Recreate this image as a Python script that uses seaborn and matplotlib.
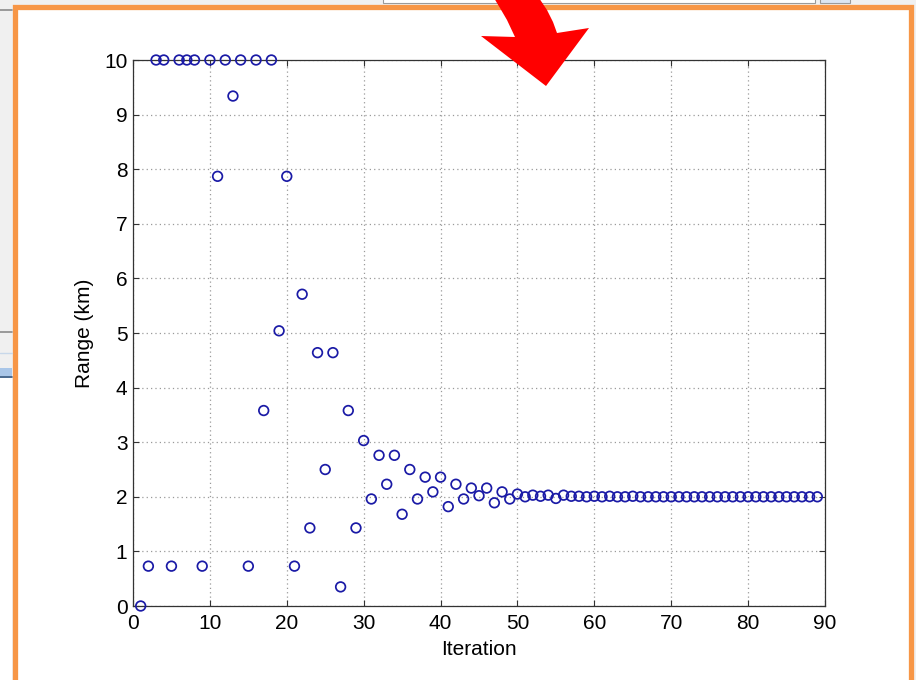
import matplotlib
matplotlib.use("Agg")
import matplotlib.pyplot as plt
import seaborn as sns
import pandas as pd
from matplotlib.patches import Rectangle, Polygon

# ---- data ----
iteration = list(range(1, 90))
range_km = [
    0.00, 0.73, 10.0, 10.0, 0.73, 10.0, 10.0, 10.0, 0.73, 10.0,   # 1-10
    7.87, 10.0, 9.34, 10.0, 0.73, 10.0, 3.58, 10.0, 5.04, 7.87,   # 11-20
    0.73, 5.71, 1.43, 4.64, 2.50, 4.64, 0.35, 3.58, 1.43, 3.03,   # 21-30
    1.96, 2.76, 2.23, 2.76, 1.68, 2.50, 1.96, 2.36, 2.09, 2.36,   # 31-40
    1.82, 2.23, 1.96, 2.16, 2.02, 2.16, 1.89, 2.09, 1.96, 2.05,   # 41-50
    2.00, 2.03, 2.01, 2.03, 1.97, 2.03, 2.01, 2.01, 2.00, 2.01,   # 51-60
    2.00, 2.01, 2.00, 2.00, 2.01, 2.00, 2.00, 2.00, 2.00, 2.00,   # 61-70
    2.00, 2.00, 2.00, 2.00, 2.00, 2.00, 2.00, 2.00, 2.00, 2.00,   # 71-80
    2.00, 2.00, 2.00, 2.00, 2.00, 2.00, 2.00, 2.00, 2.00,         # 81-89
]
x_ticks = [0, 10, 20, 30, 40, 50, 60, 70, 80, 90]
y_ticks = [0, 1, 2, 3, 4, 5, 6, 7, 8, 9, 10]
x_label = "Iteration"
y_label = "Range (km)"

df = pd.DataFrame({"Iteration": iteration, "Range": range_km})

sns.set_theme(style="white")
plt.rcParams["font.family"] = ["Liberation Sans", "DejaVu Sans"]

W, H = 916, 680
fig = plt.figure(figsize=(W / 100, H / 100), dpi=100)
fig.patch.set_facecolor("#f0f0f0")

# ---- background screenshot decoration ----
bg = fig.add_axes([0, 0, 1, 1], zorder=0)
bg.set_xlim(0, W)
bg.set_ylim(H, 0)
bg.axis("off")
bg.add_patch(Rectangle((0, 0), W, H, facecolor="#f0f0f0", edgecolor="none"))
# window bits in the gray margins
bg.add_patch(Rectangle((383, -2), 432, 5, facecolor="white", edgecolor="#9a9a9a", lw=0.8))
bg.add_patch(Rectangle((820, -2), 30, 5, facecolor="#dce6f2", edgecolor="#9a9a9a", lw=0.8))
bg.plot([0, 12], [10, 10], color="#8a8a8a", lw=1.2)
bg.plot([0, 12], [332, 332], color="#8a8a8a", lw=1.2)
bg.plot([0, 12], [353, 353], color="#c8d8ea", lw=1.0)
bg.add_patch(Rectangle((0, 368), 12, 10, facecolor="#a9c6e8", edgecolor="none"))
bg.plot([0, 12], [377, 377], color="#3a5a80", lw=1.2)
bg.add_patch(Rectangle((0, 378), 12, 302, facecolor="white", edgecolor="none"))
# orange frame with white interior
bg.add_patch(Rectangle((14.5, 6.5), 896, 680, facecolor="white",
                       edgecolor="#f79646", lw=3.8))

# ---- main plot ----
ax = fig.add_axes([133 / W, 1 - 606 / H, (825 - 133) / W, (606 - 60) / H], zorder=2)
ax.set_facecolor("white")
sns.scatterplot(data=df, x="Iteration", y="Range", ax=ax, marker="o", s=48,
                color="#1a1aa6", linewidth=1.25, clip_on=False, zorder=5, legend=False)
coll = ax.collections[-1]
coll.set_facecolor("none")
coll.set_edgecolor("#1a1aa6")
coll.set_linewidth(1.25)

ax.set_xlim(0, 90)
ax.set_ylim(0, 10)
ax.set_xticks(x_ticks)
ax.set_yticks(y_ticks)
ax.set_xticklabels([str(v) for v in x_ticks])
ax.set_yticklabels([str(v) for v in y_ticks])
ax.grid(True, color="#9a9a9a", linestyle=(0, (1, 2.5)), linewidth=0.9)
ax.set_axisbelow(True)
for sp in ax.spines.values():
    sp.set_visible(True)
    sp.set_color("#333333")
    sp.set_linewidth(0.9)
ax.tick_params(axis="both", which="major", direction="in", length=4.5, width=0.8,
               color="#333333", labelsize=15, labelcolor="black",
               top=True, right=True, bottom=True, left=True)
ax.tick_params(axis="x", pad=6)
ax.tick_params(axis="y", pad=4)
ax.set_xlabel(x_label, fontsize=15, color="black", labelpad=5)
ax.set_ylabel(y_label, fontsize=15, color="black", labelpad=7)

# ---- red arrow overlay ----
fg = fig.add_axes([0, 0, 1, 1], zorder=10)
fg.set_xlim(0, W)
fg.set_ylim(H, 0)
fg.axis("off")
fg.patch.set_alpha(0)
arrow = [(494, -2), (539, -2), (547, 10), (553, 22), (557, 33), (589, 28),
         (546, 86), (481, 36), (515, 37), (507, 20), (500, 8)]
fg.add_patch(Polygon(arrow, closed=True, facecolor="#ff0000", edgecolor="none"))

fig.savefig("out.png", dpi=100, facecolor=fig.get_facecolor())
